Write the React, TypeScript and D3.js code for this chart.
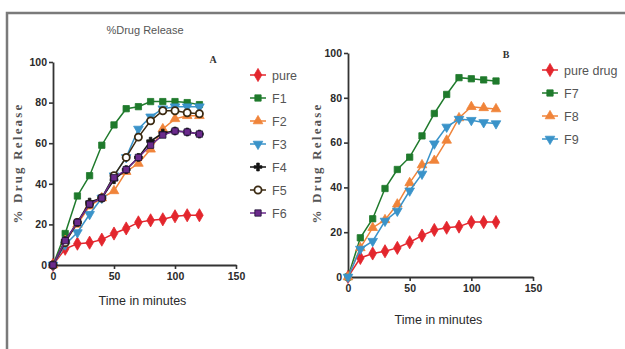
import React, { useRef, useEffect } from "react";
import * as d3 from "d3";

// time points (minutes)
const times = [0, 10, 20, 30, 40, 50, 60, 70, 80, 90, 100, 110, 120];

// panel A series (% drug released)
const pureA = [0, 8, 10.5, 11, 12.5, 15.5, 18, 21, 22, 22.5, 24, 24.5, 24.5];
const f1 = [0, 15.5, 34, 44, 59, 69, 77, 78, 80.5, 80.5, 80.5, 80, 79];
const f2 = [0, 12, 20, 29, 33, 36.5, 46, 50, 57, 67, 72, 73.5, 73.5];
const f3 = [0, 10, 16, 25, 33, 44, 53, 67, 73, 77, 78, 78, 78];
const f4 = [0, 12, 21, 31, 33, 42, 47, 53, 61, 65, 66, 65.5, 64.5];
const f5 = [0, 11, 21, 30, 33, 44, 53, 63, 71, 76, 76, 75, 74.5];
const f6 = [0, 12, 21, 30, 33, 43, 47, 53, 59, 64, 66, 65.5, 64.5];

// panel B series
const pureB = [0, 8.5, 10.5, 11.5, 13, 15.5, 18.5, 21, 22, 22.5, 24.5, 24.5, 24.5];
const f7 = [0, 17.5, 26, 39.5, 48, 53.5, 63, 73, 81.5, 89, 88.5, 88, 87.5];
const f8 = [0, 13, 22, 25.5, 32.5, 42, 50, 52, 61, 71, 76, 75.5, 75];
const f9 = [0, 12.5, 16, 25, 29.5, 38.5, 46, 59.5, 67, 70.5, 70, 69, 68.5];

const xTicks = [0, 50, 100, 150];
const yTicks = [0, 20, 40, 60, 80, 100];

const RED = "#e3262d";
const GREEN = "#1f7a2c";
const ORANGE = "#f0843a";
const CYAN = "#3a93c9";
const BLACK = "#151515";
const PURPLE = "#6b2a8c";

type Series = {
  name: string;
  values: number[];
  color: string;
  shape: string;
};

const seriesA: Series[] = [
  { name: "pure", values: pureA, color: RED, shape: "diamond" },
  { name: "F1", values: f1, color: GREEN, shape: "square" },
  { name: "F2", values: f2, color: ORANGE, shape: "triUp" },
  { name: "F3", values: f3, color: CYAN, shape: "triDown" },
  { name: "F4", values: f4, color: BLACK, shape: "cross" },
  { name: "F5", values: f5, color: "#3b2a12", shape: "circle" },
  { name: "F6", values: f6, color: PURPLE, shape: "squareOutline" },
];

const seriesB: Series[] = [
  { name: "pure drug", values: pureB, color: RED, shape: "diamond" },
  { name: "F7", values: f7, color: GREEN, shape: "square" },
  { name: "F8", values: f8, color: ORANGE, shape: "triUp" },
  { name: "F9", values: f9, color: CYAN, shape: "triDown" },
];

const sansFont = "'Liberation Sans Narrow', 'Liberation Sans', Arial, sans-serif";
const serifFont = "'Liberation Serif', 'DejaVu Serif', serif";

// one marker, drawn with d3.symbol
function Marker({ s, x, y }: { s: Series; x: number; y: number }) {
  let d = "";
  let rot = 0;
  if (s.shape === "diamond") d = d3.symbol(d3.symbolDiamond, 50)() || "";
  else if (s.shape === "square" || s.shape === "squareOutline") d = d3.symbol(d3.symbolSquare, 40)() || "";
  else if (s.shape === "triUp") d = d3.symbol(d3.symbolTriangle, 40)() || "";
  else if (s.shape === "triDown") {
    d = d3.symbol(d3.symbolTriangle, 40)() || "";
    rot = 180;
  } else if (s.shape === "cross") d = d3.symbol(d3.symbolCross, 34)() || "";
  else if (s.shape === "circle") d = d3.symbol(d3.symbolCircle, 40)() || "";

  const isOpen = s.shape === "circle";
  const fill = isOpen ? "#fff" : s.color;
  const stroke = s.shape === "squareOutline" ? "#1a1030" : s.color;
  return (
    <path
      d={d}
      transform={`translate(${x},${y}) rotate(${rot})`}
      fill={fill}
      stroke={stroke}
      strokeWidth={isOpen ? 1.8 : 0.8}
    />
  );
}

type PanelProps = {
  series: Series[];
  xRange: [number, number];
  yRange: [number, number];
  letter: string;
  letterPos: [number, number];
  yLabelPos: [number, number];
  xLabelY: number;
  legendX: number;
  legendY: number;
};

function Panel(p: PanelProps) {
  const xAxisRef = useRef<SVGGElement>(null);
  const yAxisRef = useRef<SVGGElement>(null);

  const x = d3.scaleLinear().domain([0, 150]).range(p.xRange);
  const y = d3.scaleLinear().domain([0, 100]).range(p.yRange);

  useEffect(() => {
    const xa = d3.axisBottom(x).tickValues(xTicks).tickSize(4).tickSizeOuter(0).tickPadding(4);
    const ya = d3.axisLeft(y).tickValues(yTicks).tickSize(4).tickSizeOuter(0).tickPadding(2);
    const gx = d3.select(xAxisRef.current).call(xa as any);
    const gy = d3.select(yAxisRef.current).call(ya as any);
    [gx, gy].forEach((g) => {
      g.select(".domain").attr("stroke", "#333").attr("stroke-width", 1.8);
      g.selectAll(".tick line").attr("stroke", "#333").attr("stroke-width", 1.6);
      g.selectAll(".tick text")
        .attr("fill", "#2a2a2a")
        .style("font-family", sansFont)
        .style("font-size", "10.5px")
        .style("font-weight", "bold");
    });
  }, []);

  const line = d3
    .line<number>()
    .x((_, i) => x(times[i]))
    .y((v) => y(v));

  const cx = (p.xRange[0] + p.xRange[1]) / 2;

  return (
    <g>
      <g ref={xAxisRef} transform={`translate(0,${p.yRange[0]})`} />
      <g ref={yAxisRef} transform={`translate(${p.xRange[0]},0)`} />
      {p.series.map((s) => (
        <g key={s.name}>
          <path d={line(s.values) || ""} fill="none" stroke={s.color} strokeWidth={1.5} />
          {s.values.map((v, i) => (
            <Marker key={i} s={s} x={x(times[i])} y={y(v)} />
          ))}
        </g>
      ))}
      <text
        x={cx - 2}
        y={p.xLabelY}
        textAnchor="middle"
        fontFamily={sansFont}
        fontSize={12.5}
        fill="#2a2a2a"
      >
        Time in minutes
      </text>
      <text
        transform={`translate(${p.yLabelPos[0]},${p.yLabelPos[1]}) rotate(-90)`}
        textAnchor="middle"
        fontFamily={serifFont}
        fontWeight="bold"
        fontSize={13}
        letterSpacing={2.2}
        fill="#555"
      >
        % Drug Release
      </text>
      <text
        x={p.letterPos[0]}
        y={p.letterPos[1]}
        textAnchor="middle"
        fontFamily={serifFont}
        fontWeight="bold"
        fontSize={10}
        fill="#333"
      >
        {p.letter}
      </text>
      {p.series.map((s, i) => {
        const ly = p.legendY + i * 23;
        return (
          <g key={"lg" + s.name}>
            <line x1={p.legendX - 8} x2={p.legendX + 8} y1={ly} y2={ly} stroke={s.color} strokeWidth={1.5} />
            <Marker s={s} x={p.legendX} y={ly} />
            <text
              x={p.legendX + 14}
              y={ly + 4.5}
              fontFamily={sansFont}
              fontSize={12.5}
              fill="#555"
            >
              {s.name}
            </text>
          </g>
        );
      })}
    </g>
  );
}

export default function App() {
  return (
    <svg
      width={625}
      height={349}
      style={{ position: "absolute", left: 0, top: 0, background: "#fff" }}
    >
      <rect x={7} y={13} width={700} height={400} fill="none" stroke="#7a7a7a" strokeWidth={2.5} />
      <text x={145} y={34} textAnchor="middle" fontFamily={sansFont} fontSize={11} fill="#555">
        %Drug Release
      </text>
      <Panel
        series={seriesA}
        xRange={[53, 236]}
        yRange={[265, 62]}
        letter="A"
        letterPos={[213, 63]}
        yLabelPos={[22, 163]}
        xLabelY={305}
        legendX={258}
        legendY={75}
      />
      <Panel
        series={seriesB}
        xRange={[348, 533]}
        yRange={[277, 53]}
        letter="B"
        letterPos={[506, 58]}
        yLabelPos={[321, 163]}
        xLabelY={324}
        legendX={550}
        legendY={70}
      />
    </svg>
  );
}
